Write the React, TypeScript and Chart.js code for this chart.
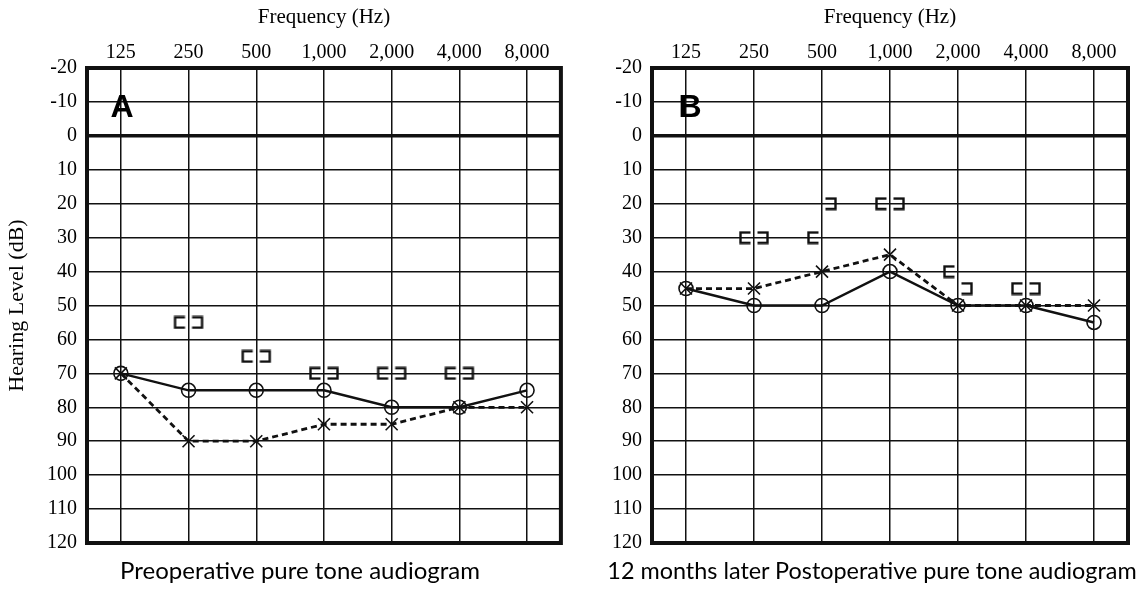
import React, { useEffect, useRef } from 'react';
import { Chart, registerables } from 'chart.js';

Chart.register(...registerables);

// ---------- data ----------
const frequencyLabels = ['125', '250', '500', '1,000', '2,000', '4,000', '8,000'];
const hearingMin = -20;
const hearingMax = 120;
const hearingStep = 10;

// Panel A: preoperative
const preRightAir = [70, 75, 75, 75, 80, 80, 75];
const preLeftAir = [70, 90, 90, 85, 85, 80, 80];
const preRightBone = [null, 55, 65, 70, 70, 70, null];
const preLeftBone = [null, 55, 65, 70, 70, 70, null];

// Panel B: 12 months postoperative
const postRightAir = [45, 50, 50, 40, 50, 50, 55];
const postLeftAir = [45, 45, 40, 35, 50, 50, 50];
const postRightBone = [null, 30, 30, 20, 40, 45, null];
const postLeftBone = [null, 30, 20, 20, 45, 45, null];

const INK = '#111';
const SERIF = '"Liberation Serif", "DejaVu Serif", serif';

function makeBracket(side: 'left' | 'right'): HTMLCanvasElement {
  const c = document.createElement('canvas');
  c.width = 32;
  c.height = 14;
  const g = c.getContext('2d')!;
  g.strokeStyle = INK;
  g.lineWidth = 2.4;
  g.beginPath();
  if (side === 'left') {
    g.moveTo(12.5, 1.8);
    g.lineTo(2.5, 1.8);
    g.lineTo(2.5, 12.2);
    g.lineTo(12.5, 12.2);
  } else {
    g.moveTo(19.5, 1.8);
    g.lineTo(29.5, 1.8);
    g.lineTo(29.5, 12.2);
    g.lineTo(19.5, 12.2);
  }
  g.stroke();
  return c;
}

const framePlugin = {
  id: 'frame',
  afterDatasetsDraw(chart: any) {
    const { ctx, chartArea } = chart;
    ctx.save();
    ctx.strokeStyle = INK;
    ctx.lineWidth = 4;
    ctx.strokeRect(chartArea.left, chartArea.top, chartArea.right - chartArea.left, chartArea.bottom - chartArea.top);
    ctx.restore();
  },
};

interface PanelProps {
  rightAir: number[];
  leftAir: number[];
  rightBone: (number | null)[];
  leftBone: (number | null)[];
  yAxisWidth: number;
  rightPad: number;
  showYTitle: boolean;
}

function Audiogram(props: PanelProps) {
  const ref = useRef<HTMLCanvasElement>(null);
  useEffect(() => {
    if (!ref.current) return;
    const leftBr = makeBracket('left');
    const rightBr = makeBracket('right');
    const chart = new Chart(ref.current, {
      type: 'line',
      data: {
        labels: frequencyLabels,
        datasets: [
          {
            data: props.rightAir,
            borderColor: INK,
            borderWidth: 2.4,
            pointStyle: 'circle',
            pointRadius: 7,
            pointBorderWidth: 1.6,
            pointBorderColor: INK,
            pointBackgroundColor: 'rgba(0,0,0,0)',
            tension: 0,
          },
          {
            data: props.leftAir,
            borderColor: INK,
            borderWidth: 2.8,
            borderDash: [6, 4],
            pointStyle: 'crossRot',
            pointRadius: 8.5,
            pointBorderWidth: 1.6,
            pointBorderColor: INK,
            tension: 0,
          },
          {
            data: props.rightBone,
            showLine: false,
            pointStyle: leftBr,
            pointRadius: 7,
          },
          {
            data: props.leftBone,
            showLine: false,
            pointStyle: rightBr,
            pointRadius: 7,
          },
        ],
      },
      options: {
        animation: false,
        responsive: true,
        maintainAspectRatio: false,
        layout: { padding: { top: 0, left: 0, right: props.rightPad, bottom: 46 } },
        plugins: { legend: { display: false }, tooltip: { enabled: false } },
        scales: {
          x: {
            type: 'category',
            position: 'top',
            offset: true,
            grid: { color: INK, lineWidth: 1.5, drawTicks: false },
            border: { display: false },
            ticks: {
              color: '#000',
              font: { family: SERIF, size: 20 },
              padding: 3,
              maxRotation: 0,
              autoSkip: false,
            },
            title: {
              display: true,
              text: 'Frequency (Hz)',
              color: '#000',
              font: { family: SERIF, size: 21 },
              padding: { top: 5, bottom: 0 },
            },
            afterFit: (scale: any) => {
              scale.height = 68;
            },
          },
          y: {
            type: 'linear',
            min: hearingMin,
            max: hearingMax,
            reverse: true,
            grid: {
              color: INK,
              lineWidth: (c: any) => (c.tick && c.tick.value === 0 ? 3.5 : 1.5),
              drawTicks: false,
            },
            border: { display: false },
            ticks: {
              stepSize: hearingStep,
              color: '#000',
              font: { family: SERIF, size: 20 },
              padding: 10,
            },
            title: {
              display: props.showYTitle,
              text: 'Hearing Level (dB)',
              color: '#000',
              font: { family: SERIF, size: 22 },
              padding: { top: 4, bottom: 0 },
            },
            afterFit: (scale: any) => {
              scale.width = props.yAxisWidth;
            },
          },
        },
      },
      plugins: [framePlugin],
    } as any);
    return () => chart.destroy();
  }, []);
  return <canvas ref={ref} />;
}

const letterStyle: React.CSSProperties = {
  position: 'absolute',
  font: 'bold 32px "Liberation Sans", Arial, sans-serif',
  color: '#000',
  lineHeight: '32px',
  width: 40,
  textAlign: 'center',
};

const captionStyle: React.CSSProperties = {
  position: 'absolute',
  fontFamily: 'Lato, "Open Sans", sans-serif',
  fontSize: 24,
  color: '#000',
  lineHeight: '28px',
  textAlign: 'center',
  whiteSpace: 'nowrap',
  top: 556,
};

export default function App() {
  useEffect(() => {
    document.body.style.margin = '0';
  }, []);
  return (
    <div style={{ position: 'absolute', left: 0, top: 0, width: 1143, height: 589, background: '#fff', overflow: 'hidden' }}>
      <div style={{ position: 'absolute', left: 0, top: 0, width: 571, height: 589 }}>
        <Audiogram
          rightAir={preRightAir}
          leftAir={preLeftAir}
          rightBone={preRightBone}
          leftBone={preLeftBone}
          yAxisWidth={87}
          rightPad={10}
          showYTitle={true}
        />
      </div>
      <div style={{ position: 'absolute', left: 571, top: 0, width: 572, height: 589 }}>
        <Audiogram
          rightAir={postRightAir}
          leftAir={postLeftAir}
          rightBone={postRightBone}
          leftBone={postLeftBone}
          yAxisWidth={81}
          rightPad={15}
          showYTitle={false}
        />
      </div>
      <div style={{ ...letterStyle, left: 102, top: 90 }}>A</div>
      <div style={{ ...letterStyle, left: 670, top: 90 }}>B</div>
      <div style={{ ...captionStyle, left: 100, width: 400 }}>Preoperative pure tone audiogram</div>
      <div style={{ ...captionStyle, fontSize: 23.4, left: 572, width: 600 }}>12 months later Postoperative pure tone audiogram</div>
    </div>
  );
}
